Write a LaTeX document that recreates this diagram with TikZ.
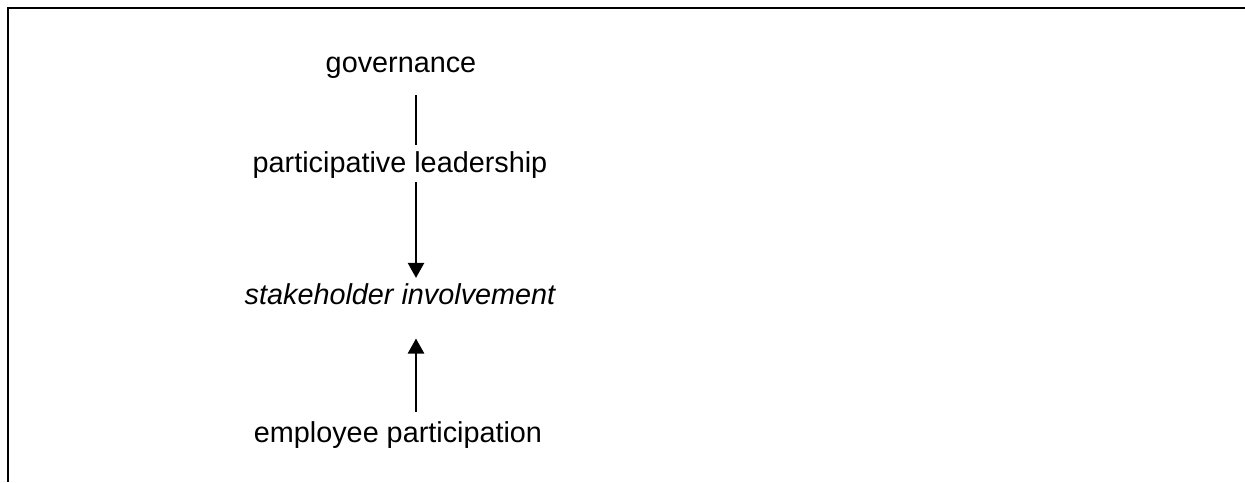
\documentclass[tikz,border=0pt]{standalone}
\usepackage{fontspec}
\setmainfont{Liberation Sans}
\usetikzlibrary{arrows.meta}
\begin{document}
\begin{tikzpicture}[x=1pt,y=-1pt,
  lbl/.style={anchor=base,inner sep=0pt,font=\fontsize{28.8}{34}\selectfont},
  thinline/.style={line width=1.3pt},
  arr/.style={line width=2.3pt,-{Triangle[length=15pt,width=16pt]}}]
\useasboundingbox (0,0) rectangle (1245,482);
\draw[line width=2pt] (8,482) -- (8,7.5) -- (1245,7.5);
\coordinate (ax) at (416,0);
\node[lbl] (gov) at (401,72) {governance};
\node[lbl] (part) at (400,172.7) {participative leadership};
\node[lbl] (stake) at (400,304) {\itshape stakeholder involvement};
\node[lbl] (emp) at (398,442) {employee participation};
\draw[thinline,shorten <=17pt,shorten >=6.7pt] (gov.south -| ax) -- (part.north -| ax);
\draw[arr,shorten <=3.3pt,shorten >=5pt] (part.south -| ax) -- (stake.north -| ax);
\draw[arr,shorten <=9pt,shorten >=34pt] (emp.north -| ax) -- (stake.south -| ax);
\end{tikzpicture}
\end{document}
